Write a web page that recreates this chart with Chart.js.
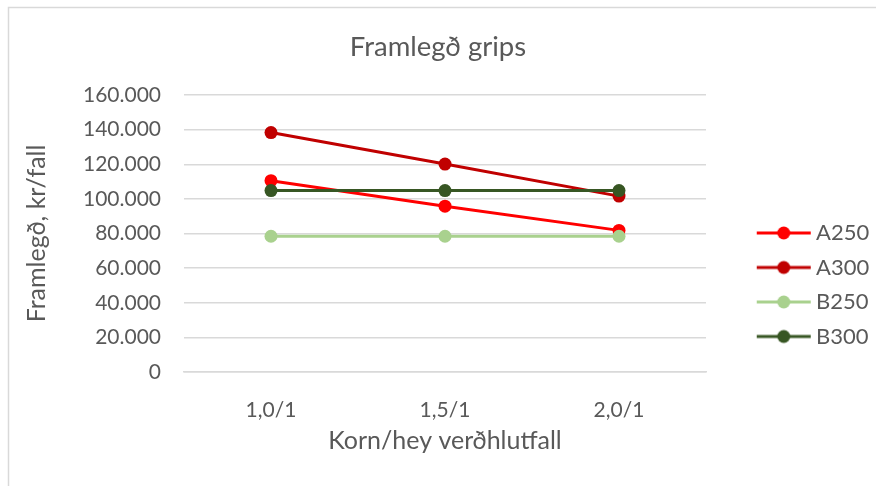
<!DOCTYPE html>
<html>
<head>
<meta charset="utf-8">
<script src="https://cdn.jsdelivr.net/npm/chart.js@4.4.1/dist/chart.umd.min.js"></script>
<style>
  html, body { margin: 0; padding: 0; background: #fff; }
  #wrap { width: 876px; height: 486px; }
</style>
</head>
<body>
<div id="wrap"><canvas id="chart-line"></canvas></div>
<script>
// gögn lesin af myndinni
const categories = ['1,0/1', '1,5/1', '2,0/1'];
const a250 = [110500, 95800, 81800];
const a300 = [138300, 120100, 101600];
const b250 = [78400, 78400, 78400];
const b300 = [104800, 104800, 104800];

const seriesNames = ['A250', 'A300', 'B250', 'B300'];
const seriesColors = ['#FF0000', '#C00000', '#A9D18E', '#375623'];

const textColor = '#595959';
const fontFamily = 'Lato, "Open Sans", sans-serif';

// legend marker: line with a dot, extra blank room on the left
function legendMarker(color) {
    var c = document.createElement('canvas');
    c.width = 110;
    c.height = 16;
    var ctx = c.getContext('2d');
    ctx.strokeStyle = color;
    ctx.lineWidth = 3;
    ctx.beginPath();
    ctx.moveTo(50, 8);
    ctx.lineTo(104, 8);
    ctx.stroke();
    ctx.fillStyle = color;
    ctx.beginPath();
    ctx.arc(77, 8, 6.5, 0, Math.PI * 2);
    ctx.fill();
    return c;
}

function fmt(v) {
    return String(v).replace(/\B(?=(\d{3})+(?!\d))/g, '.');
}

const frame = {
    id: 'frame',
    beforeDraw: function(chart) {
        var ctx = chart.ctx;
        ctx.save();
        ctx.strokeStyle = '#D9D9D9';
        ctx.lineWidth = 1.5;
        ctx.strokeRect(8.5, 7.5, 900, 500);
        ctx.restore();
    }
};

const allValues = [a250, a300, b250, b300];
const datasets = seriesNames.map(function(name, i) {
    return {
        label: name,
        data: allValues[i],
        borderColor: seriesColors[i],
        backgroundColor: seriesColors[i],
        pointBackgroundColor: seriesColors[i],
        pointBorderWidth: 0,
        pointRadius: 6.5,
        borderWidth: 3,
        tension: 0,
        order: seriesNames.length - i, // later series on top, like Excel
        legendMarker: legendMarker(seriesColors[i])
    };
});

new Chart(document.getElementById('chart-line'), {
    type: 'line',
    data: { labels: categories, datasets: datasets },
    options: {
        responsive: true,
        maintainAspectRatio: false,
        animation: false,
        layout: { padding: { top: 0, right: 0, bottom: 0, left: 0 } },
        plugins: {
            title: {
                display: true,
                text: 'Framlegð grips',
                color: textColor,
                font: { family: fontFamily, size: 27.5, weight: 'normal', lineHeight: 1.2 },
                padding: { top: 30.5, bottom: 31.5 }
            },
            legend: {
                position: 'right',
                align: 'start',
                fullSize: false,
                maxWidth: 170,
                title: { display: true, text: ' ', font: { size: 12, lineHeight: 1 }, padding: { top: 0, bottom: 102.5 } },
                labels: {
                    color: textColor,
                    font: { family: fontFamily, size: 22, lineHeight: 1 },
                    usePointStyle: true,
                    pointStyleWidth: 86.5,
                    padding: 12.5,
                    generateLabels: function(chart) {
                        return chart.data.datasets.map(function(d, i) {
                            return {
                                text: d.label,
                                fontColor: textColor,
                                pointStyle: d.legendMarker,
                                datasetIndex: i,
                                hidden: false,
                                lineWidth: 0
                            };
                        });
                    }
                }
            },
            tooltip: { enabled: false }
        },
        scales: {
            x: {
                offset: true,
                grid: { display: false, drawTicks: false },
                border: { display: true, color: '#D9D9D9', width: 1.5 },
                ticks: { color: textColor, font: { family: fontFamily, size: 21 }, padding: 26 },
                title: {
                    display: true,
                    text: 'Korn/hey verðhlutfall',
                    color: textColor,
                    font: { family: fontFamily, size: 25, lineHeight: 1.2 },
                    padding: { top: 0, bottom: 30 }
                },
                afterFit: function(scale) { scale.height = 114; }
            },
            y: {
                min: 0,
                max: 160000,
                ticks: {
                    stepSize: 20000,
                    color: textColor,
                    font: { family: fontFamily, size: 21 },
                    padding: 23,
                    callback: function(v) { return fmt(v); }
                },
                grid: { color: '#D9D9D9', lineWidth: 1.5, drawTicks: false },
                border: { display: false },
                title: {
                    display: true,
                    text: 'Framlegð, kr/fall',
                    color: textColor,
                    font: { family: fontFamily, size: 25, lineHeight: 1.2 },
                    padding: { top: 22, bottom: 0 }
                },
                afterFit: function(scale) { scale.width = 184; }
            }
        }
    },
    plugins: [frame]
});
</script>
</body>
</html>
